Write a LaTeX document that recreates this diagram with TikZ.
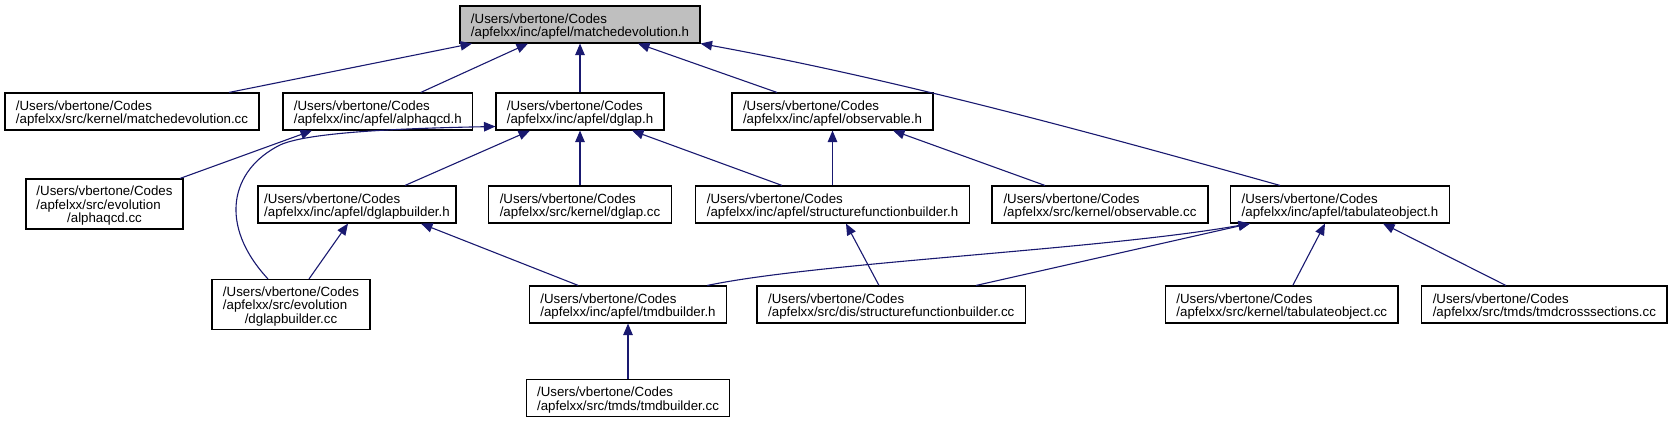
\documentclass[tikz,border=0pt]{standalone}
\usepackage{fontspec}
\setmainfont{Liberation Sans}
\usetikzlibrary{arrows.meta}
\definecolor{edgeblue}{HTML}{191970}
\definecolor{rootgray}{HTML}{BFBFBF}
\newcommand\nodetwo[2]{\raisebox{-2.5pt}[\height][\depth]{\begin{tabular}{@{}l@{}}#1\\#2\end{tabular}}}
\newcommand\nodethree[3]{\raisebox{-2.5pt}[\height][\depth]{\begin{tabular}{@{}l@{}}#1\\#2\\\multicolumn{1}{@{}c@{}}{#3}\end{tabular}}}
\begin{document}
\begin{tikzpicture}[x=1pt,y=-1pt,
  box/.style={draw=black, line width=1.1pt, fill=white, inner sep=0pt,
    minimum height=37pt, font=\fontsize{13.3}{13.3}\selectfont},
  tall/.style={minimum height=50pt},
  edge/.style={draw=edgeblue, line width=1.1pt, -{Triangle[length=11.5pt,width=9.5pt]}}]
\useasboundingbox (0,0) rectangle (1672,423);
% row 1
\node[box, fill=rootgray, minimum width=240pt] (meh) at (580,24.5) {\nodetwo{/Users/vbertone/Codes}{/apfelxx/inc/apfel/matchedevolution.h}};
% row 2
\node[box, minimum width=254pt] (mecc) at (132,111.5) {\nodetwo{/Users/vbertone/Codes}{/apfelxx/src/kernel/matchedevolution.cc}};
\node[box, minimum width=189.5pt] (aqh) at (377.75,111.5) {\nodetwo{/Users/vbertone/Codes}{/apfelxx/inc/apfel/alphaqcd.h}};
\node[box, minimum width=168pt] (dgh) at (580,111.5) {\nodetwo{/Users/vbertone/Codes}{/apfelxx/inc/apfel/dglap.h}};
\node[box, minimum width=201pt] (obsh) at (832.5,111.5) {\nodetwo{/Users/vbertone/Codes}{/apfelxx/inc/apfel/observable.h}};
% row 3
\node[box, tall, minimum width=157pt] (aqcc) at (104.5,204) {\nodethree{/Users/vbertone/Codes}{/apfelxx/src/evolution}{/alphaqcd.cc}};
\node[box, minimum width=198pt] (dgbh) at (357,204.5) {\nodetwo{/Users/vbertone/Codes}{/apfelxx/inc/apfel/dglapbuilder.h}};
\node[box, minimum width=183pt] (dgcc) at (580,204.5) {\nodetwo{/Users/vbertone/Codes}{/apfelxx/src/kernel/dglap.cc}};
\node[box, minimum width=274pt] (sfbh) at (832.5,204.5) {\nodetwo{/Users/vbertone/Codes}{/apfelxx/inc/apfel/structurefunctionbuilder.h}};
\node[box, minimum width=216pt] (obscc) at (1100,204.5) {\nodetwo{/Users/vbertone/Codes}{/apfelxx/src/kernel/observable.cc}};
\node[box, minimum width=219pt] (tabh) at (1340,204.5) {\nodetwo{/Users/vbertone/Codes}{/apfelxx/inc/apfel/tabulateobject.h}};
% row 4
\node[box, tall, minimum width=158pt] (dgbcc) at (291,304.5) {\nodethree{/Users/vbertone/Codes}{/apfelxx/src/evolution}{/dglapbuilder.cc}};
\node[box, minimum width=197.5pt] (tmdh) at (628,304.5) {\nodetwo{/Users/vbertone/Codes}{/apfelxx/inc/apfel/tmdbuilder.h}};
\node[box, minimum width=268.5pt] (sfbcc) at (891.25,304.5) {\nodetwo{/Users/vbertone/Codes}{/apfelxx/src/dis/structurefunctionbuilder.cc}};
\node[box, minimum width=232.5pt] (tabcc) at (1281.75,304.5) {\nodetwo{/Users/vbertone/Codes}{/apfelxx/src/kernel/tabulateobject.cc}};
\node[box, minimum width=245.3pt] (tmdxs) at (1544.35,304.5) {\nodetwo{/Users/vbertone/Codes}{/apfelxx/src/tmds/tmdcrosssections.cc}};
% row 5
\node[box, minimum width=203.5pt] (tmdcc) at (628,398) {\nodetwo{/Users/vbertone/Codes}{/apfelxx/src/tmds/tmdbuilder.cc}};
% edges
\draw[edge] ([xshift=97pt]mecc.north) -- ([xshift=-108pt]meh.south);
\draw[edge] ([xshift=43pt]aqh.north) -- ([xshift=-52pt]meh.south);
\draw[edge] (dgh.north) -- (meh.south);
\draw[edge] ([xshift=-55.5pt]obsh.north) -- ([xshift=58pt]meh.south);
\draw[edge] ([xshift=-60pt]tabh.north) .. controls (1100,135) and (900,80) .. (meh.south east);
\draw[edge] ([xshift=75.5pt]aqcc.north) -- ([xshift=-65.75pt]aqh.south);
\draw[edge] ([xshift=-23pt]dgbcc.north) .. controls (218,225) and (230,170) .. (280,145) .. controls (310,131) and (420,128) .. ([yshift=-15pt]dgh.west);
\draw[edge] ([xshift=48pt]dgbh.north) -- ([xshift=-50pt]dgh.south);
\draw[edge] (dgcc.north) -- (dgh.south);
\draw[edge] ([xshift=-50.5pt]sfbh.north) -- ([xshift=52pt]dgh.south);
\draw[edge] (sfbh.north) -- (obsh.south);
\draw[edge] ([xshift=-55pt]obscc.north) -- ([xshift=60.5pt]obsh.south);
\draw[edge] ([xshift=18pt]dgbcc.north) -- ([xshift=-9pt]dgbh.south);
\draw[edge] ([xshift=-49.75pt]tmdh.north) -- ([xshift=64pt]dgbh.south);
\draw[edge] ([xshift=79.25pt]tmdh.north) .. controls (820,262) and (1100,250) .. ([xshift=-90pt]tabh.south);
\draw[edge] ([xshift=-12.25pt]sfbcc.north) -- ([xshift=13.5pt]sfbh.south);
\draw[edge] ([xshift=84.75pt]sfbcc.north) -- ([xshift=-90pt]tabh.south);
\draw[edge] ([xshift=11pt]tabcc.north) -- ([xshift=-15pt]tabh.south);
\draw[edge] ([xshift=-38.5pt]tmdxs.north) -- ([xshift=43pt]tabh.south);
\draw[edge] (tmdcc.north) -- (tmdh.south);
\end{tikzpicture}
\end{document}
